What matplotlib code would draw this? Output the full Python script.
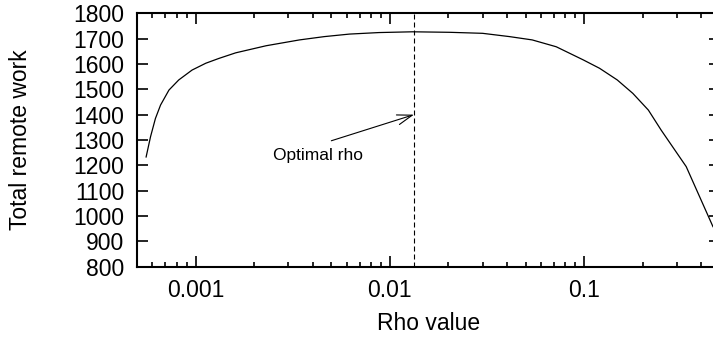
import matplotlib
matplotlib.use('Agg')
import matplotlib.pyplot as plt
from matplotlib.ticker import LogLocator, FixedLocator, NullFormatter

plt.rcParams['font.family'] = ['Liberation Sans', 'DejaVu Sans']

# values
rho = [0.000557, 0.000587, 0.000622, 0.000661, 0.00073, 0.00082, 0.00096,
       0.00113, 0.00132, 0.00161, 0.00231, 0.00343, 0.0046, 0.0062, 0.0088,
       0.0131, 0.0203, 0.030, 0.0413, 0.054, 0.0718, 0.099, 0.12, 0.148,
       0.178, 0.214, 0.249, 0.335, 0.46]
work = [1233, 1313, 1385, 1438, 1497, 1537, 1576,
        1603, 1622, 1644, 1672, 1695, 1708, 1718, 1724,
        1727, 1725, 1721, 1708, 1695, 1668, 1616, 1583, 1537,
        1484, 1418, 1339, 1195, 958]

optimal_rho = 0.0133
arrow_head = (0.0133, 1400)
arrow_tail = (0.005, 1297)
label_pos = (0.00425, 1221)

y_ticks = list(range(800, 1801, 100))
x_ticks = [0.001, 0.01, 0.1]
x_tick_labels = ['0.001', '0.01', '0.1']

fig = plt.figure(figsize=(7.13, 3.44), dpi=100)
# right edge of the frame sits just outside the picture, as in the reference
ax = fig.add_axes([137 / 713, 77.3 / 344, 583 / 713, 253.4 / 344])

ax.plot(rho, work, color='black', lw=0.9)
ax.axvline(optimal_rho, color='black', lw=0.8, linestyle=(0, (4.5, 2.7)))

ax.annotate('', xy=arrow_head, xytext=arrow_tail,
            arrowprops=dict(arrowstyle='->,head_length=0.9,head_width=0.3',
                            lw=0.8, color='black', shrinkA=0, shrinkB=0,
                            mutation_scale=12))
ax.text(label_pos[0], label_pos[1], 'Optimal rho', ha='center', va='baseline',
        fontsize=12.5)

ax.set_xscale('log')
ax.set_xlim(0.0005, 0.5)
ax.set_ylim(800, 1800)

ax.xaxis.set_major_locator(FixedLocator(x_ticks))
ax.set_xticklabels(x_tick_labels)
ax.xaxis.set_minor_locator(LogLocator(base=10, subs=range(2, 10), numticks=20))
ax.xaxis.set_minor_formatter(NullFormatter())
ax.set_yticks(y_ticks)

for s in ax.spines.values():
    s.set_linewidth(1.5)

ax.tick_params(which='both', direction='in', top=True, right=True, colors='black')
ax.tick_params(which='major', length=8, width=1.2, labelsize=16.5, pad=9)
ax.tick_params(which='minor', length=3.8, width=1.2)

ax.set_xlabel('Rho value', fontsize=16.5, labelpad=7)
ax.set_ylabel('Total remote work', fontsize=16.5, labelpad=30)

fig.savefig('out.png', dpi=100)
